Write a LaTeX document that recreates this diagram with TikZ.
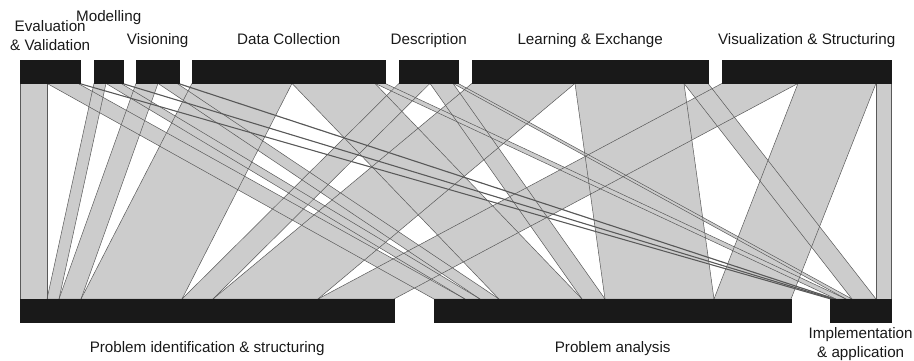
\documentclass[tikz,border=0pt]{standalone}
\usepackage{fontspec}
\setmainfont{Liberation Sans}
\usetikzlibrary{positioning, backgrounds}
\tikzset{
	bar/.style={
		draw=black!90,
		fill=black!90,
		rectangle,
		inner sep=0pt,
		minimum height=23pt,
		anchor=north west
	},
	lbl/.style={
		inner sep=0pt,
		align=center,
		text=black!90,
		font=\fontsize{15.2pt}{19pt}\selectfont
	},
	word/.style={
		lbl,
		text height=11pt,
		text depth=3.5pt
	},
	flowfill/.style={fill=black!20},
	flowedge/.style={draw=black!65, line width=0.5pt, line join=round},
}
% top bar / left / right -- bottom bar / left / right (offsets from bar's left end)
\newcommand{\flowlist}{
	ev/0/27/pis/0/27, ev/27/58/pa/0/31, ev/58/60/ia/0/2,
	mod/0/12/pis/27/39, mod/12/27/pa/31/46, mod/27/29/ia/2/4,
	vis/0/22/pis/39/61, vis/22/41/pa/46/65, vis/41/43/ia/4/6,
	dc/0/100/pis/61/162, dc/100/183/pa/65/148, dc/183/193/ia/6/16,
	desc/0/31/pis/162/193, desc/31/54/pa/148/171, desc/54/59/ia/16/22,
	le/0/103/pis/193/298, le/103/212/pa/171/280, le/212/236/ia/22/46,
	vs/0/76/pis/298/374, vs/76/154/pa/280/357, vs/154/169/ia/46/61
}

\begin{document}
\begin{tikzpicture}[x=1pt, y=-1pt]
\useasboundingbox (0,0) rectangle (914,361);

% Top bars
\node[bar, minimum width=60pt] (ev) at (20,60) {};
\node[bar, minimum width=29pt] (mod) at (94,60) {};
\node[bar, minimum width=43pt] (vis) at (136,60) {};
\node[bar, minimum width=193pt] (dc) at (192,60) {};
\node[bar, minimum width=59pt] (desc) at (399,60) {};
\node[bar, minimum width=236pt] (le) at (472,60) {};
\node[bar, minimum width=169pt] (vs) at (722,60) {};

% Bottom bars
\node[bar, minimum width=374pt] (pis) at (20,299) {};
\node[bar, minimum width=357pt] (pa) at (434,299) {};
\node[bar, minimum width=61pt] (ia) at (830,299) {};

% Labels
\node[lbl, above=9pt of ev] (evL) {Evaluation\\\& Validation};
\node[word, above=34.5pt of mod] (modL) {Modelling};
\node[word, above=12pt of vis] (visL) {Visioning};
\node[word, above=12pt of dc] (dcL) {Data Collection};
\node[word, above=12pt of desc] (descL) {Description};
\node[word, above=12pt of le] (leL) {Learning \& Exchange};
\node[word, above=12pt of vs] (vsL) {Visualization \& Structuring};
\node[word, below=19pt of pis] (pisL) {Problem identification \& structuring};
\node[word, below=19pt of pa] (paL) {Problem analysis};
\node[lbl, below=5pt of ia] (iaL) {Implementation\\\& application};

% Flows
\begin{scope}[on background layer]
\foreach \ta/\tl/\tr/\bb/\bl/\br in \flowlist {
	\fill[flowfill] ([xshift=\tl pt]\ta.south west) -- ([xshift=\tr pt]\ta.south west)
		-- ([xshift=\br pt]\bb.north west) -- ([xshift=\bl pt]\bb.north west) -- cycle;
}
\foreach \ta/\tl/\tr/\bb/\bl/\br in \flowlist {
	\draw[flowedge] ([xshift=\tl pt]\ta.south west) -- ([xshift=\tr pt]\ta.south west)
		-- ([xshift=\br pt]\bb.north west) -- ([xshift=\bl pt]\bb.north west) -- cycle;
}
\end{scope}

\end{tikzpicture}
\end{document}
